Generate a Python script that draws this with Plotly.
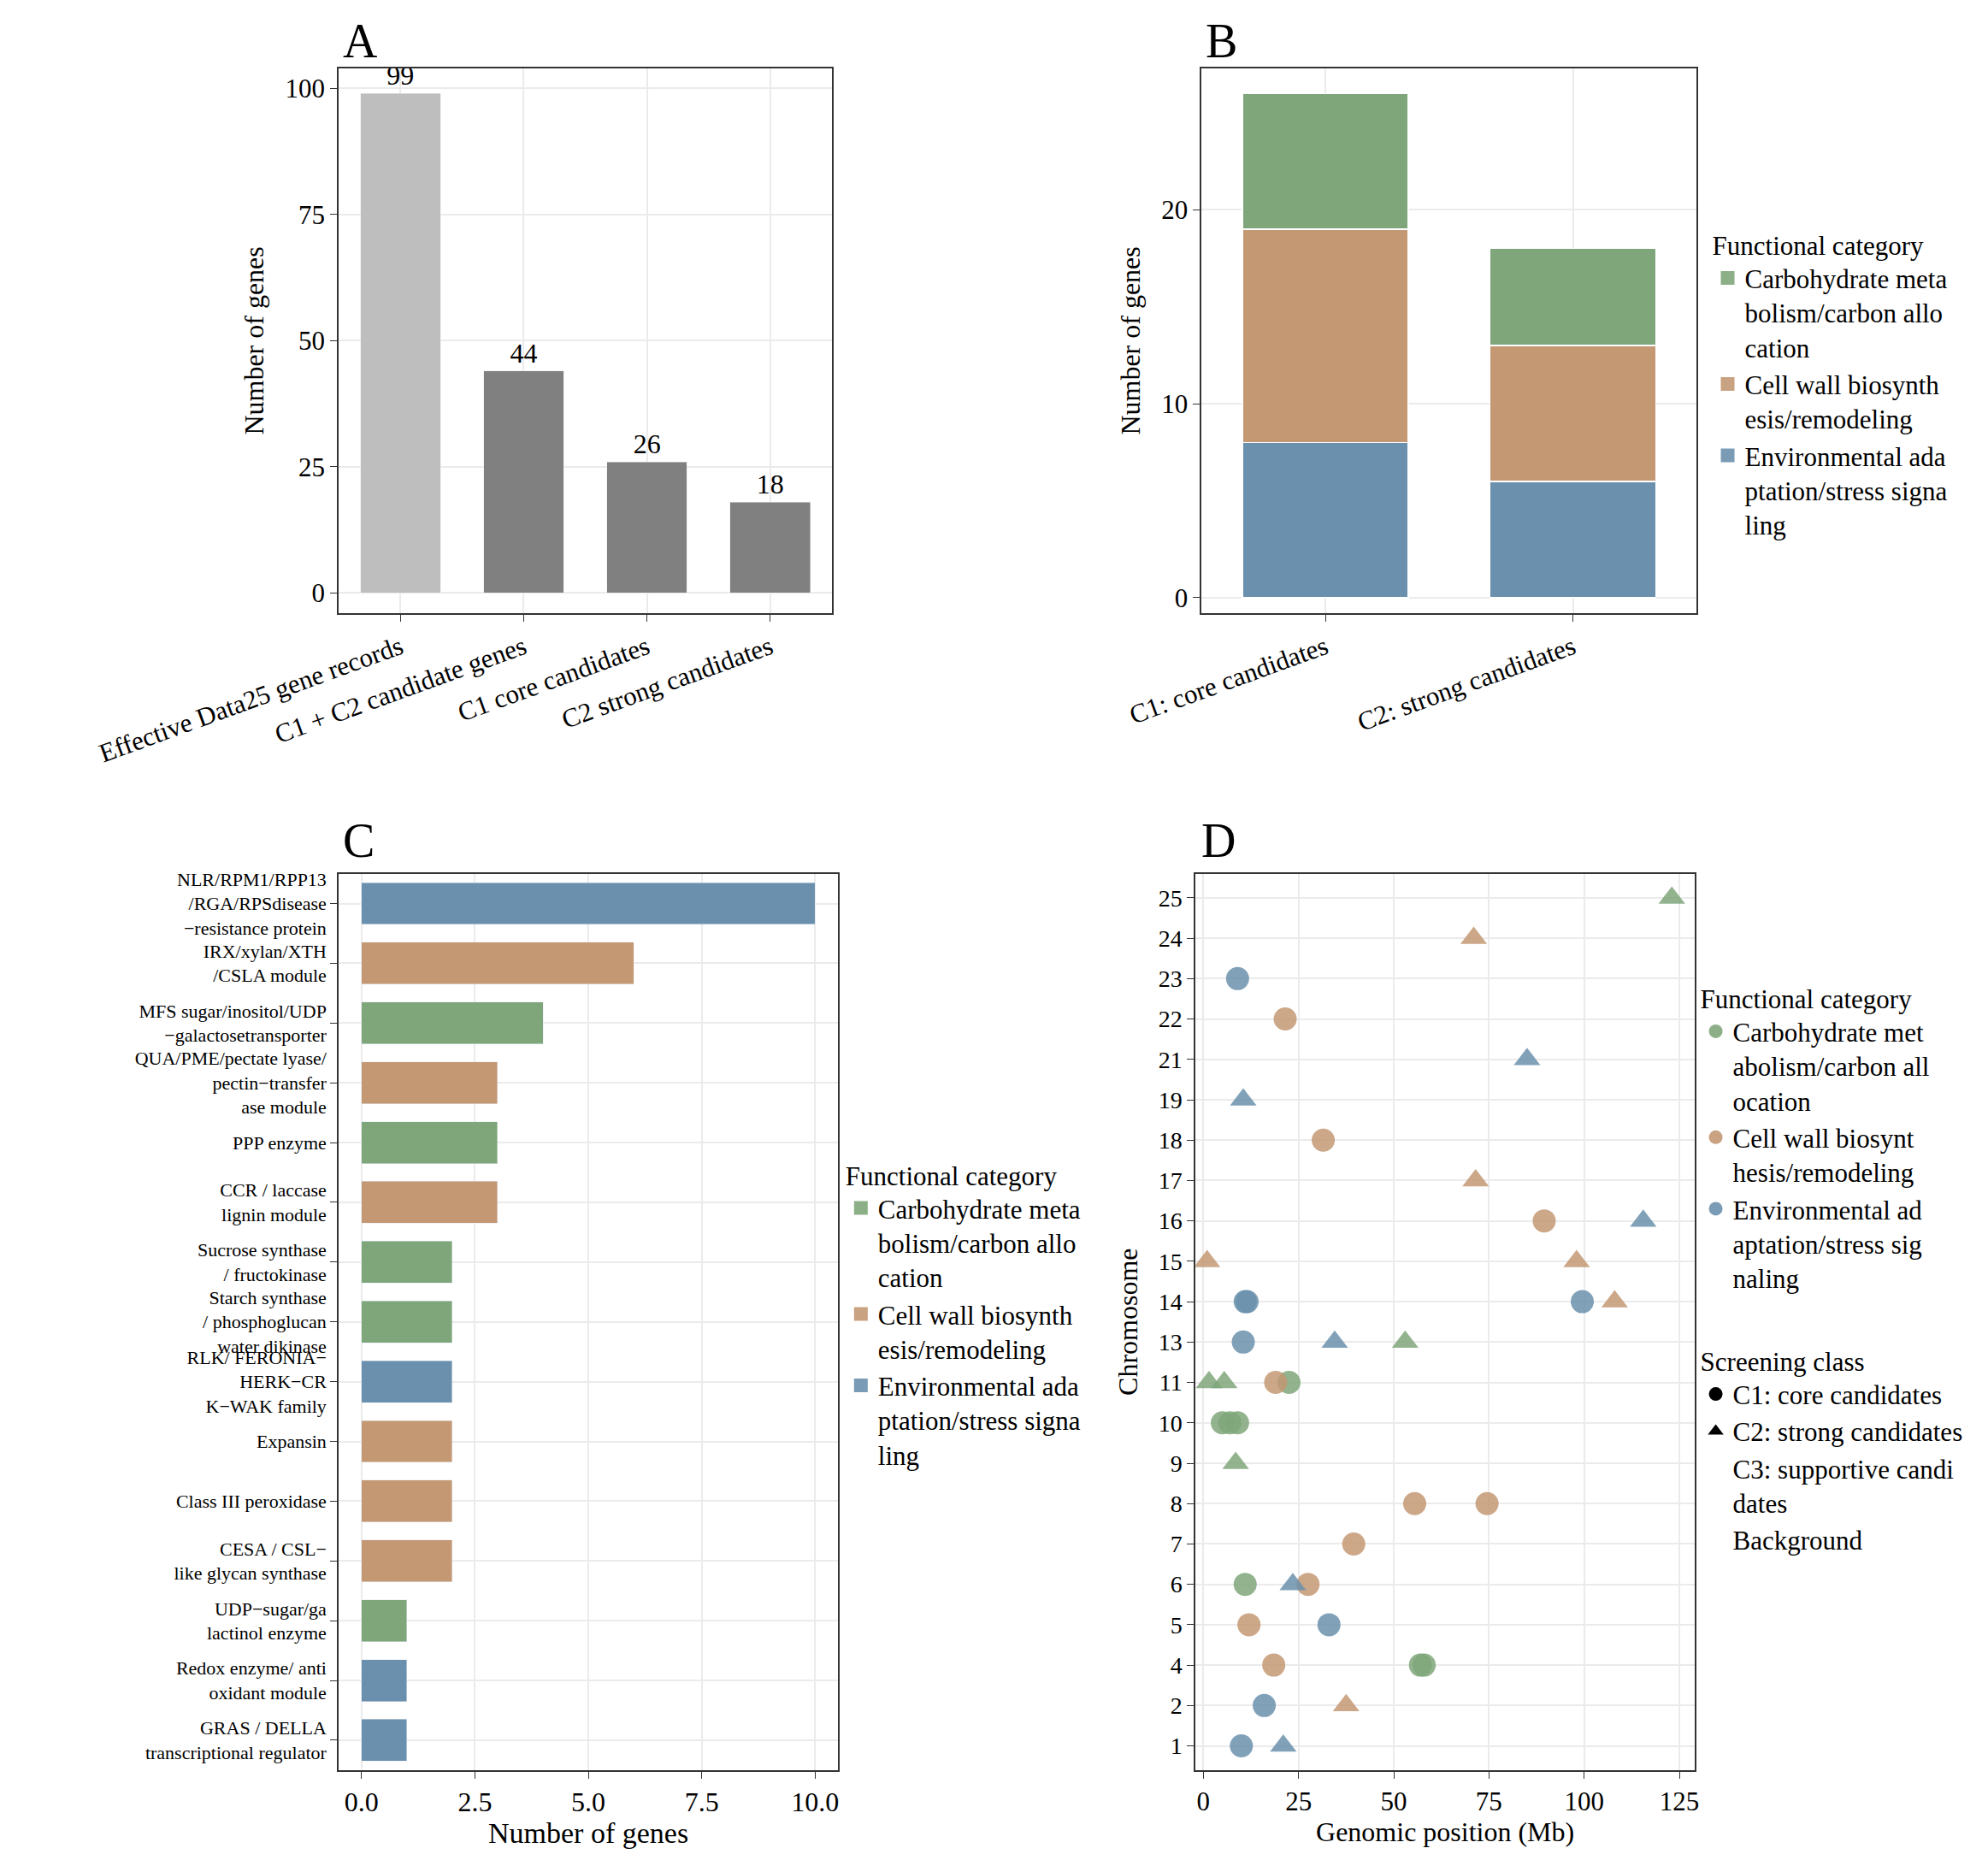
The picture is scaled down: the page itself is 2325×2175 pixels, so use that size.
import plotly.graph_objects as go

GREEN = "#7fa67a"
TAN = "#c39873"
BLUE = "#6b90ad"
FONT = "Liberation Serif"

# panel A
a_labels = ["Effective Data25 gene records", "C1 + C2 candidate genes", "C1 core candidates", "C2 strong candidates"]
a_values = [99, 44, 26, 18]
a_colors = ["#bebebe", "#808080", "#808080", "#808080"]

# panel B
b_classes = ["C1: core candidates", "C2: strong candidates"]
b_env = [8, 6]
b_wall = [11, 7]
b_carb = [7, 5]

cat_names = ["Carbohydrate meta<br>bolism/carbon allo<br>cation",
             "Cell wall biosynth<br>esis/remodeling",
             "Environmental ada<br>ptation/stress signa<br>ling"]
d_cat_names = ["Carbohydrate met<br>abolism/carbon all<br>ocation",
               "Cell wall biosynt<br>hesis/remodeling",
               "Environmental ad<br>aptation/stress sig<br>naling"]

# panel C
c_labels = ["NLR/RPM1/RPP13<br>/RGA/RPSdisease<br>−resistance protein",
            "IRX/xylan/XTH<br>/CSLA module",
            "MFS sugar/inositol/UDP<br>−galactosetransporter",
            "QUA/PME/pectate lyase/<br>pectin−transfer<br>ase module",
            "PPP enzyme",
            "CCR / laccase<br>lignin module",
            "Sucrose synthase<br>/ fructokinase",
            "Starch synthase<br>/ phosphoglucan<br>water dikinase",
            "RLK/ FERONIA−<br>HERK−CR<br>K−WAK family",
            "Expansin",
            "Class III peroxidase",
            "CESA / CSL−<br>like glycan synthase",
            "UDP−sugar/ga<br>lactinol enzyme",
            "Redox enzyme/ anti<br>oxidant module",
            "GRAS / DELLA<br>transcriptional regulator"]
c_values = [10, 6, 4, 3, 3, 3, 2, 2, 2, 2, 2, 2, 1, 1, 1]
c_cats = ["E", "W", "C", "W", "C", "W", "C", "C", "E", "W", "W", "W", "C", "E", "E"]

# panel D
chrom_order = ["1", "2", "4", "5", "6", "7", "8", "9", "10", "11", "13", "14", "15",
               "16", "17", "18", "19", "21", "22", "23", "24", "25"]
d_chr = ["25", "24", "23", "22", "21", "19", "18", "17", "16", "16", "15", "15",
         "14", "14", "14", "14", "13", "13", "13", "11", "11", "11", "11",
         "10", "10", "10", "9", "8", "8", "7", "6", "6", "6", "5", "5",
         "4", "4", "4", "2", "2", "1", "1"]
d_pos = [123, 71, 9, 21.5, 85, 10.5, 31.5, 71.5, 89.5, 115.5, 1, 98,
         11, 11.5, 99.5, 108, 10.5, 34.5, 53, 1.5, 5.5, 19, 22.5,
         5, 7, 9, 8.5, 55.5, 74.5, 39.5, 11, 23.5, 27.5, 12, 33,
         18.5, 57, 58, 16, 37.5, 10, 21]
d_cat = ["C", "W", "E", "W", "E", "E", "W", "W", "W", "E", "W", "W",
         "E", "E", "E", "W", "E", "E", "C", "C", "C", "W", "C",
         "C", "C", "C", "C", "W", "W", "W", "C", "E", "W", "W", "E",
         "W", "C", "C", "E", "W", "E", "E"]
d_cls = ["C2", "C2", "C1", "C1", "C2", "C2", "C1", "C2", "C1", "C2", "C2", "C2",
         "C1", "C1", "C1", "C2", "C1", "C2", "C2", "C2", "C2", "C1", "C1",
         "C1", "C1", "C1", "C2", "C1", "C1", "C1", "C1", "C2", "C1", "C1", "C1",
         "C1", "C1", "C1", "C1", "C2", "C1", "C2"]

cat_color = {"C": GREEN, "W": TAN, "E": BLUE}
keys = ["C", "W", "E"]

fig = go.Figure()

# A
fig.add_trace(go.Bar(x=a_labels, y=a_values, marker_color=a_colors, width=0.65,
                     text=a_values, textposition="outside", cliponaxis=False,
                     textfont=dict(size=32, color="black"), showlegend=False,
                     xaxis="x", yaxis="y"))

# B
for vals, key in [(b_env, "E"), (b_wall, "W"), (b_carb, "C")]:
    fig.add_trace(go.Bar(x=b_classes, y=vals, marker_color=cat_color[key],
                         marker_line=dict(color="white", width=1.5), width=0.67,
                         showlegend=False, xaxis="x2", yaxis="y2"))

# C
for key in keys:
    xs = [v if c == key else None for v, c in zip(c_values, c_cats)]
    fig.add_trace(go.Bar(y=c_labels, x=xs, orientation="h", marker_color=cat_color[key],
                         width=0.7, showlegend=False, xaxis="x3", yaxis="y3"))

# D
for key in keys:
    for cls, sym in [("C1", "circle"), ("C2", "triangle-up")]:
        xs = [p for p, k, c in zip(d_pos, d_cat, d_cls) if k == key and c == cls]
        ys = [ch for ch, k, c in zip(d_chr, d_cat, d_cls) if k == key and c == cls]
        fig.add_trace(go.Scatter(x=xs, y=ys, mode="markers", showlegend=False,
                                 marker=dict(color=cat_color[key], symbol=sym, size=27, opacity=0.85),
                                 xaxis="x4", yaxis="y4"))

# legend entries
for lg, names, sym, sz in [("legend", cat_names, "square", 34), ("legend2", cat_names, "square", 34),
                           ("legend3", d_cat_names, "circle", 26)]:
    for key, nm in zip(keys, names):
        fig.add_trace(go.Scatter(x=[None], y=[None], mode="markers", name=nm,
                                 marker=dict(color=cat_color[key], symbol=sym, size=sz, opacity=0.9),
                                 legend=lg, xaxis="x4", yaxis="y4"))
for nm, sym in [("C1: core candidates", "circle"), ("C2: strong candidates", "triangle-up"),
                ("C3: supportive candi<br>dates", "circle"), ("Background", "circle")]:
    col = "black" if nm.startswith(("C1", "C2")) else "rgba(0,0,0,0)"
    fig.add_trace(go.Scatter(x=[None], y=[None], mode="markers", name=nm,
                             marker=dict(color=col, symbol=sym, size=28),
                             legend="legend4", xaxis="x4", yaxis="y4"))

ax = dict(showline=True, mirror=True, linecolor="#333", linewidth=2, ticks="outside",
          ticklen=8, tickcolor="#333", gridcolor="#ebebeb", gridwidth=2, automargin=False,
          tickfont=dict(size=31, color="black"), zeroline=False)
title_font = dict(size=32, color="black")

leg = dict(font=dict(size=31, color="black"), bgcolor="rgba(0,0,0,0)", traceorder="normal",
           title=dict(text="Functional category", font=dict(size=31)), tracegroupgap=6,
           itemsizing="trace", valign="top")

fig.update_layout(
    width=2325, height=2175, plot_bgcolor="white", paper_bgcolor="white",
    font=dict(family=FONT, color="black"), barmode="stack",
    margin=dict(l=0, r=0, t=0, b=0, autoexpand=False),
    xaxis=dict(ax, domain=[0.167, 0.415], anchor="y", tickangle=-20, showgrid=True),
    yaxis=dict(ax, domain=[0.674, 0.967], anchor="x", range=[-4, 104], tickvals=[0, 25, 50, 75, 100],
               title=dict(text="Number of genes", font=title_font)),
    xaxis2=dict(ax, domain=[0.601, 0.850], anchor="y2", tickangle=-20),
    yaxis2=dict(ax, domain=[0.674, 0.967], anchor="x2", range=[-0.8, 27.3], tickvals=[0, 10, 20],
                title=dict(text="Number of genes", font=title_font)),
    xaxis3=dict(ax, domain=[0.167, 0.418], anchor="y3", range=[-0.5, 10.5],
                tickvals=[0, 2.5, 5, 7.5, 10], ticktext=["0.0", "2.5", "5.0", "7.5", "10.0"],
                tickfont=dict(size=32, color="black"),
                title=dict(text="Number of genes", font=dict(size=34), standoff=0)),
    yaxis3=dict(ax, domain=[0.052, 0.534], anchor="x3", autorange="reversed",
                categoryorder="array", categoryarray=c_labels, tickfont=dict(size=22, color="black"),
                showgrid=True),
    xaxis4=dict(ax, domain=[0.598, 0.849], anchor="y4", range=[-2, 129],
                tickvals=[0, 25, 50, 75, 100, 125],
                title=dict(text="Genomic position (Mb)", font=title_font, standoff=2)),
    yaxis4=dict(ax, domain=[0.052, 0.534], anchor="x4", type="category",
                categoryorder="array", categoryarray=chrom_order, range=[-0.6, 21.6],
                tickfont=dict(size=28, color="black"),
                title=dict(text="Chromosome", font=title_font)),
    legend=dict(leg, x=0.857, y=0.885, xanchor="left", yanchor="top"),
    legend2=dict(leg, x=0.421, y=0.385, xanchor="left", yanchor="top"),
    legend3=dict(leg, x=0.851, y=0.48, xanchor="left", yanchor="top"),
    legend4=dict(leg, x=0.851, y=0.285, xanchor="left", yanchor="top",
                 title=dict(text="Screening class", font=dict(size=31))),
)

for lbl, x, y in [("A", 0.168, 0.997), ("B", 0.602, 0.997), ("C", 0.168, 0.567), ("D", 0.600, 0.567)]:
    fig.add_annotation(text=lbl, x=x, y=y, xref="paper", yref="paper", showarrow=False,
                       xanchor="left", yanchor="top", font=dict(size=56, color="black"))

fig.write_html("out.html")
